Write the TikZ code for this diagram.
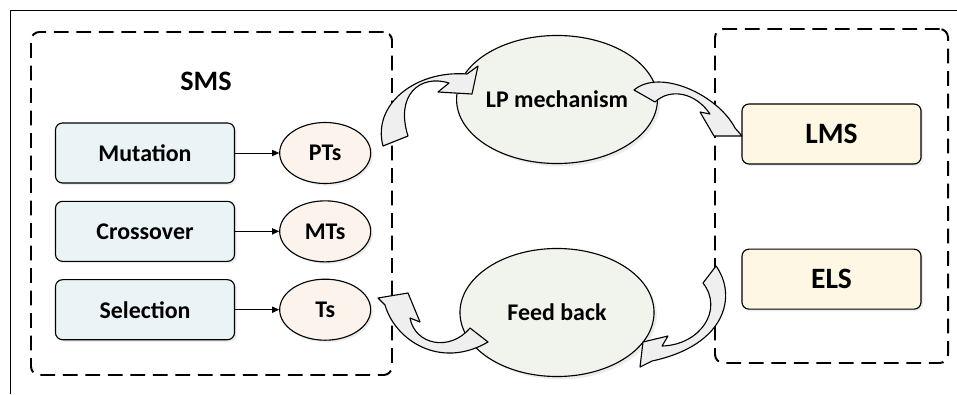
\documentclass[tikz,border=0pt]{standalone}
\usepackage{fontspec}
\setmainfont{Carlito}
\usetikzlibrary{arrows.meta, fit, positioning, shapes.geometric, shadows}

\definecolor{opfill}{HTML}{EAF3F6}
\definecolor{tfill}{HTML}{FCF3EC}
\definecolor{lpfill}{HTML}{F1F4EC}
\definecolor{lsfill}{HTML}{FEF7E4}
\definecolor{bendfill}{HTML}{EFEFEF}

\begin{document}
\begin{tikzpicture}[
    x=0.025cm, y=-0.025cm,
    opbox/.style   = {draw, rounded corners=5pt, minimum width=4.475cm,
                      minimum height=1.5cm, align=center, line width=0.8pt,
                      fill=#1, font=\fontsize{17}{20}\selectfont\bfseries,
                      drop shadow={opacity=0.15, shadow xshift=1.5pt, shadow yshift=-1.5pt}},
    tnode/.style   = {draw, ellipse, minimum width=2.275cm, minimum height=1.525cm,
                      inner sep=0pt, fill=tfill, line width=0.8pt,
                      font=\fontsize{17}{20}\selectfont\bfseries,
                      drop shadow={opacity=0.15, shadow xshift=1.5pt, shadow yshift=-1.5pt}},
    bignode/.style = {draw, ellipse, minimum width=4.85cm, minimum height=3.2cm,
                      inner sep=0pt, fill=lpfill, line width=0.8pt,
                      font=\fontsize{17}{20}\selectfont\bfseries,
                      drop shadow={opacity=0.15, shadow xshift=2pt, shadow yshift=-2pt}},
    arrow/.style   = {-{Triangle[length=5pt, width=4.5pt]}, line width=0.5pt},
    grpbox/.style  = {draw, dashed, dash pattern=on 10.5pt off 5.5pt,
                      rounded corners=6pt, line width=1.4pt, inner sep=0pt},
    bendarrow/.style = {draw, fill=bendfill, line width=0.8pt, line join=round},
    title/.style   = {font=\fontsize{20}{24}\selectfont\bfseries},
]

\useasboundingbox (0,0) rectangle (957,394);

%% Frame
\draw[line width=0.7pt] (10,394) -- (10,10) -- (957,10);

%% SMS operators
\node[opbox=opfill] (mut) at (145,153) {Mutation};
\node[opbox=opfill, below=0.43cm of mut]   (cross) {Crossover};
\node[opbox=opfill, below=0.43cm of cross] (sel)   {Selection};

%% Their results
\node[tnode, right=1.1cm of mut]   (pts) {PTs};
\node[tnode, right=1.1cm of cross] (mts) {MTs};
\node[tnode, right=1.1cm of sel]   (ts)  {Ts};

\node[title] (sms) at (206,81) {SMS};

%% Arrows
\draw[arrow] (mut)   -- (pts);
\draw[arrow] (cross) -- (mts);
\draw[arrow] (sel)   -- (ts);

%% Group: SMS
\coordinate (smsNW) at (31,32);
\coordinate (smsSE) at (392,375);
\node[grpbox, fit=(smsNW)(smsSE)] (sms_box) {};

%% LP mechanism and feed back
\node[bignode] (lp) at (557,99.5)  {LP mechanism};
\node[bignode] (fb) at (557,312.5) {Feed back};

%% LMS and ELS
\node[opbox=lsfill, font=\fontsize{21}{25}\selectfont\bfseries] (lms) at (831.5,134) {LMS};
\node[opbox=lsfill, font=\fontsize{21}{25}\selectfont\bfseries, below=2.1cm of lms] (els) {ELS};

%% Group: LMS / ELS
\coordinate (lsNW) at (715,29);
\coordinate (lsSE) at (948,363);
\node[grpbox, fit=(lsNW)(lsSE)] (ls_box) {};

%% Bent block arrows
% SMS -> LP mechanism
\draw[bendarrow] (383,146) .. controls (372,105) and (415,70) .. (467,74)
    -- (478,66) -- (472,94) -- (438,92) -- (449,83)
    .. controls (420,74) and (395,95) .. (408,136) -- cycle;
% LP mechanism -> LMS
\draw[bendarrow] (634,90) .. controls (660,68) and (718,95) .. (735,128)
    -- (742,136) -- (714,136) -- (700,112) -- (710,114)
    .. controls (695,92) and (670,88) .. (655,102) -- cycle;
% ELS -> feed back
\draw[bendarrow] (716,266) .. controls (737,295) and (727,345) .. (652,361)
    -- (640,367) -- (643,342) -- (668,336) -- (662,346)
    .. controls (700,345) and (724,310) .. (703,283) -- cycle;
% feed back -> Ts
\draw[bendarrow] (488,342) .. controls (440,370) and (395,340) .. (385,305)
    -- (378,298) -- (408,293) -- (420,322) -- (410,318)
    .. controls (415,345) and (450,352) .. (470,328) -- cycle;

\end{tikzpicture}
\end{document}
